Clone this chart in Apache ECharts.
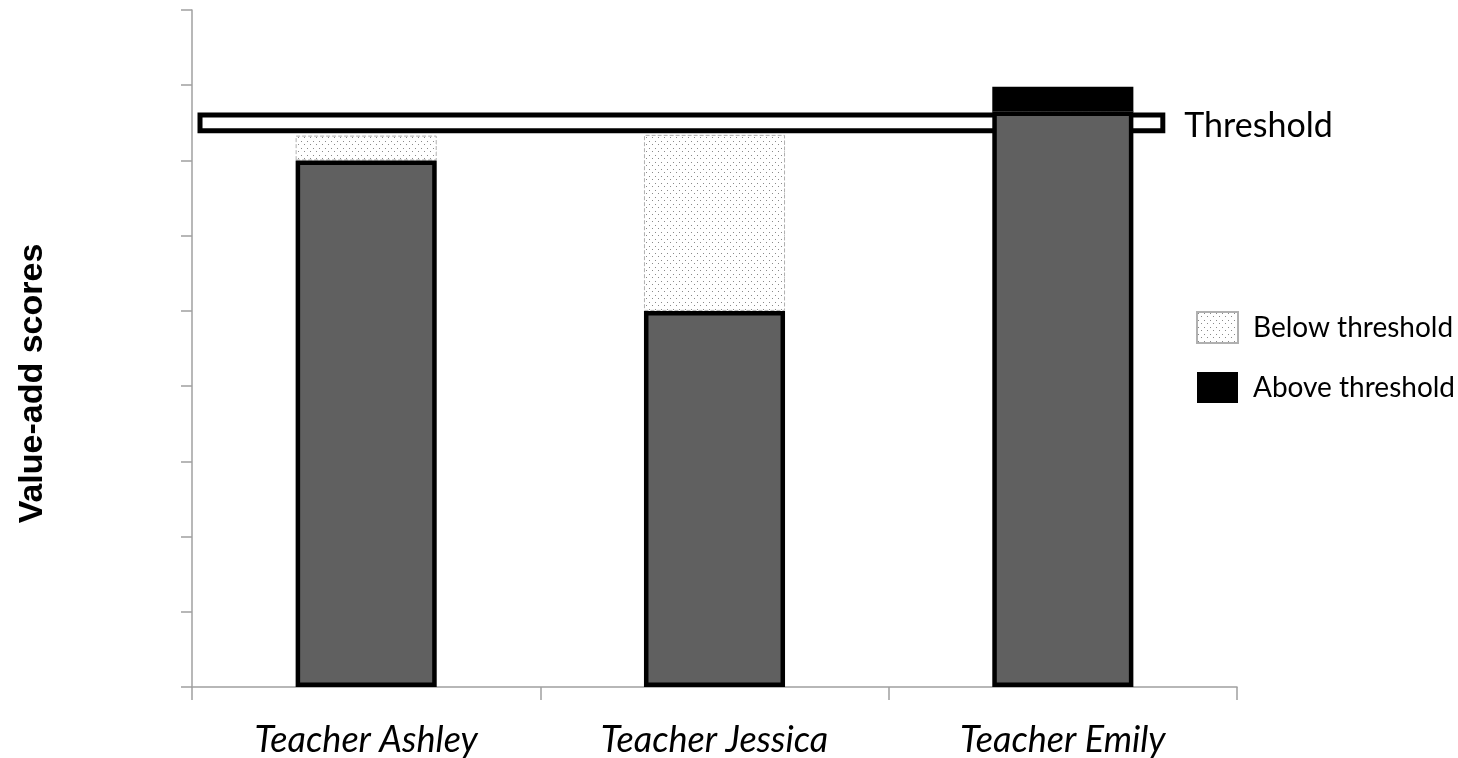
<!DOCTYPE html>
<html>
<head>
<meta charset="utf-8">
<script src="https://cdn.jsdelivr.net/npm/echarts@6/dist/echarts.min.js"></script>
<style>
html,body{margin:0;padding:0;background:#fff;}
#chart{width:1458px;height:758px;}
</style>
</head>
<body>
<div id="chart"></div>
<script>
// ---- data ----
const categories = ['Teacher Ashley', 'Teacher Jessica', 'Teacher Emily'];
const baseScores = [7.0, 5.0, 7.65];
const belowThreshold = [0.33, 2.34, 0];
const aboveThreshold = [0, 0, 0.33];
const thresholdValue = 7.5;
const thresholdLabel = 'Threshold';
const yAxisName = 'Value-add scores';
const legendNames = ['Below threshold', 'Above threshold'];

// dotted pattern
const pat = document.createElement('canvas');
pat.width = 6; pat.height = 7;
const pctx = pat.getContext('2d');
pctx.fillStyle = '#ffffff';
pctx.fillRect(0, 0, 6, 7);
pctx.fillStyle = '#8a8a8a';
pctx.fillRect(1, 1, 1, 1);
pctx.fillRect(4, 4, 1, 1);

const chart = echarts.init(document.getElementById('chart'), null, {renderer: 'canvas'});
const font = 'Lato, "Open Sans", sans-serif';
const halfH = 0.105;

const option = {
  animation: false,
  backgroundColor: '#ffffff',
  grid: {left: 192, right: 221, top: 10, bottom: 71, containLabel: false},
  legend: {
    orient: 'vertical',
    left: 1196,
    top: 311,
    padding: 0,
    itemWidth: 41,
    itemHeight: 31,
    itemGap: 28,
    icon: 'rect',
    data: legendNames,
    textStyle: {fontFamily: font, fontSize: 28, color: '#000', padding: [0, 0, 0, 10]}
  },
  xAxis: [{
    type: 'category',
    data: categories,
    axisLine: {lineStyle: {color: '#a0a0a0', width: 1.5}},
    axisTick: {show: true, length: 13, lineStyle: {color: '#a0a0a0', width: 1.5}},
    axisLabel: {fontFamily: font, fontStyle: 'italic', fontSize: 36, color: '#000', margin: 35}
  }, {
    type: 'value', min: 0, max: 3, show: false
  }],
  yAxis: {
    type: 'value',
    min: 0, max: 9, interval: 1,
    name: yAxisName,
    nameLocation: 'middle',
    nameGap: 142,
    nameTextStyle: {fontFamily: '"Liberation Sans", Arial, sans-serif', fontWeight: 'bold', fontSize: 34, color: '#000', padding: [0, 70, 0, 0]},
    axisLine: {show: true, lineStyle: {color: '#a0a0a0', width: 1.5}},
    axisTick: {show: true, length: 11, lineStyle: {color: '#a0a0a0', width: 1.5}},
    axisLabel: {show: false},
    splitLine: {show: false}
  },
  series: [
    {
      name: 'Score',
      type: 'bar',
      stack: 'total',
      barWidth: '40.5%',
      data: baseScores,
      itemStyle: {color: '#606060', borderColor: '#000', borderWidth: 4.5},
      z: 2
    },
    {
      name: legendNames[0],
      type: 'bar',
      stack: 'total',
      data: belowThreshold,
      itemStyle: {color: {image: pat, repeat: 'repeat'}, borderColor: '#b0b0b0', borderWidth: 1, borderType: 'dashed'},
      z: 1
    },
    {
      name: legendNames[1],
      type: 'bar',
      stack: 'total',
      data: aboveThreshold,
      itemStyle: {color: '#000', borderColor: '#000', borderWidth: 0},
      z: 1
    },
    {
      name: thresholdLabel,
      type: 'line',
      xAxisIndex: 1,
      data: [],
      z: 5,
      markArea: {
        silent: true,
        itemStyle: {color: '#ffffff', borderColor: '#000', borderWidth: 5},
        label: {show: true, position: 'right', distance: 19, offset: [0, 3], fontFamily: font, fontSize: 34, color: '#000'},
        data: [[
          {name: thresholdLabel, coord: [0.023, thresholdValue + halfH]},
          {coord: [2.787, thresholdValue - halfH]}
        ]]
      }
    }
  ]
};
chart.setOption(option);
</script>
</body>
</html>
